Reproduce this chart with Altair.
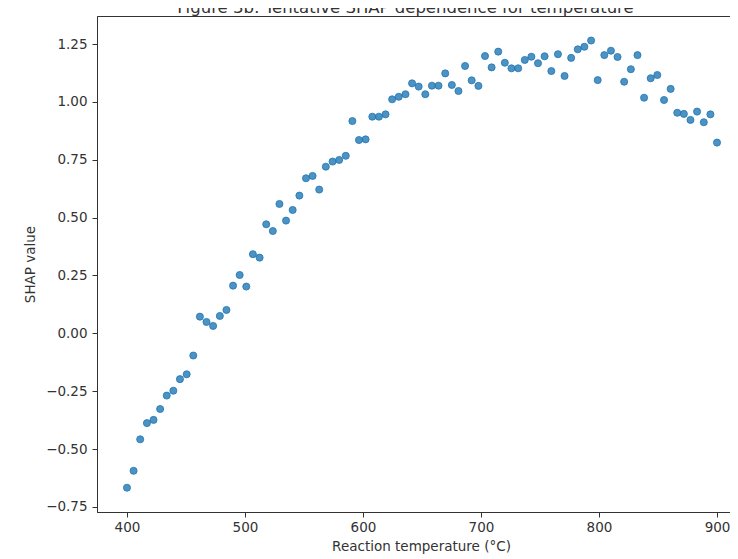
import altair as alt
import pandas as pd

temperature = [
    400.0, 405.6, 411.2, 416.9, 422.5, 428.1, 433.7, 439.3, 444.9, 450.6,
    456.2, 461.8, 467.4, 473.0, 478.7, 484.3, 489.9, 495.5, 501.1, 506.7,
    512.4, 518.0, 523.6, 529.2, 534.8, 540.4, 546.1, 551.7, 557.3, 562.9,
    568.5, 574.2, 579.8, 585.4, 591.0, 596.6, 602.2, 607.9, 613.5, 619.1,
    624.7, 630.3, 636.0, 641.6, 647.2, 652.8, 658.4, 664.0, 669.7, 675.3,
    680.9, 686.5, 692.1, 697.8, 703.4, 709.0, 714.6, 720.2, 725.8, 731.5,
    737.1, 742.7, 748.3, 753.9, 759.6, 765.2, 770.8, 776.4, 782.0, 787.6,
    793.3, 798.9, 804.5, 810.1, 815.7, 821.3, 827.0, 832.6, 838.2, 843.8,
    849.4, 855.1, 860.7, 866.3, 871.9, 877.5, 883.1, 888.8, 894.4, 900.0,
]

shap_value = [
    -0.667, -0.594, -0.458, -0.388, -0.374, -0.327, -0.269, -0.248, -0.198, -0.177,
    -0.096, 0.072, 0.049, 0.032, 0.075, 0.101, 0.206, 0.252, 0.202, 0.342,
    0.327, 0.471, 0.442, 0.559, 0.487, 0.533, 0.595, 0.670, 0.680, 0.621,
    0.720, 0.742, 0.749, 0.767, 0.917, 0.835, 0.838, 0.936, 0.936, 0.946,
    1.011, 1.022, 1.033, 1.080, 1.066, 1.033, 1.070, 1.070, 1.123, 1.073,
    1.047, 1.155, 1.093, 1.069, 1.198, 1.149, 1.217, 1.169, 1.145, 1.145,
    1.181, 1.195, 1.167, 1.197, 1.133, 1.206, 1.112, 1.190, 1.227, 1.238,
    1.265, 1.094, 1.202, 1.221, 1.194, 1.087, 1.141, 1.202, 1.018, 1.102,
    1.116, 1.008, 1.056, 0.953, 0.948, 0.922, 0.958, 0.912, 0.946, 0.824,
]

x_ticks = [400, 500, 600, 700, 800, 900]
y_ticks = [-0.75, -0.5, -0.25, 0.0, 0.25, 0.5, 0.75, 1.0, 1.25]

df = pd.DataFrame({"temperature": temperature, "shap": shap_value})

FONT = "DejaVu Sans"
INK = "#333333"

chart = (
    alt.Chart(df)
    .mark_point(
        shape="circle",
        filled=True,
        size=50,
        color="#1f77b4",
        fillOpacity=0.8,
        stroke="#1f77b4",
        strokeOpacity=0.8,
        strokeWidth=1,
    )
    .encode(
        x=alt.X(
            "temperature:Q",
            scale=alt.Scale(domain=[374.6, 911.0], nice=False, zero=False),
            axis=alt.Axis(
                values=x_ticks,
                format="d",
                title="Reaction temperature (°C)",
                grid=False,
                tickSize=5,
                labelPadding=3,
                titlePadding=6,
                titleX=324,
                titleAlign="center",
            ),
        ),
        y=alt.Y(
            "shap:Q",
            scale=alt.Scale(domain=[-0.772, 1.371], nice=False, zero=False),
            axis=alt.Axis(
                values=y_ticks,
                format=".2f",
                title="SHAP value",
                grid=False,
                tickSize=5,
                labelPadding=5,
                titlePadding=8,
            ),
        ),
    )
    .properties(
        width=633,
        height=496,
        padding={"left": 89, "top": 8, "right": 0, "bottom": 47},
        autosize=alt.AutoSizeParams(type="none"),
        title=alt.TitleParams(
            "Figure 3b: Tentative SHAP dependence for temperature",
            fontSize=16.5,
            font=FONT,
            fontWeight="normal",
            color=INK,
            baseline="alphabetic",
            offset=0,
            dx=-8,
            dy=13,
        ),
    )
    .configure_axis(
        labelFont=FONT,
        titleFont=FONT,
        labelFontSize=13.5,
        titleFontSize=13.5,
        labelColor=INK,
        titleColor=INK,
        titleFontWeight="normal",
        domainColor=INK,
        tickColor=INK,
    )
    .configure_view(stroke=INK, strokeWidth=1)
)

chart.save("out.html", embed_options={"renderer": "svg", "actions": False})
